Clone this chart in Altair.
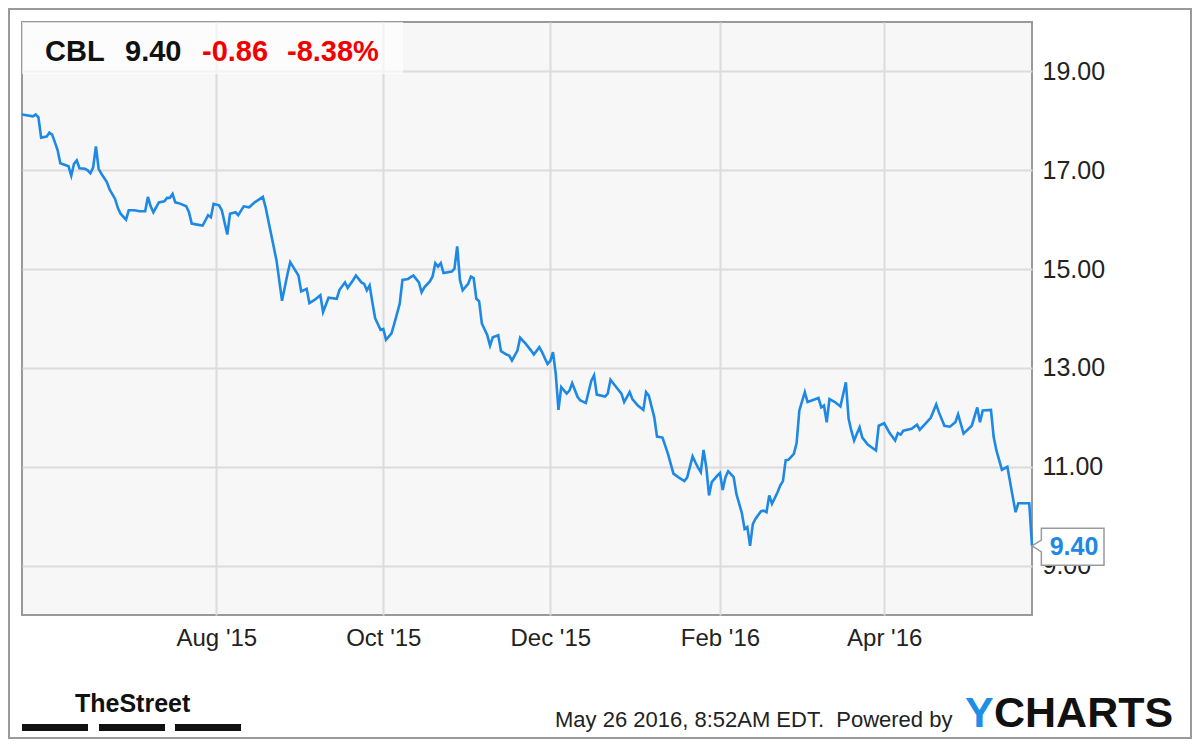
import altair as alt
import pandas as pd

# ---------------- data ----------------
dates = [
    "2015-05-22", "2015-05-26", "2015-05-27", "2015-05-28", "2015-05-29", "2015-05-31",
    "2015-06-01", "2015-06-02", "2015-06-03", "2015-06-04", "2015-06-05", "2015-06-07",
    "2015-06-08", "2015-06-09", "2015-06-10", "2015-06-11", "2015-06-12", "2015-06-14",
    "2015-06-15", "2015-06-16", "2015-06-17", "2015-06-18", "2015-06-19", "2015-06-20",
    "2015-06-22", "2015-06-23", "2015-06-25", "2015-06-26", "2015-06-27", "2015-06-29",
    "2015-06-30", "2015-07-02", "2015-07-04", "2015-07-06", "2015-07-07", "2015-07-08",
    "2015-07-09", "2015-07-11", "2015-07-13", "2015-07-14", "2015-07-15", "2015-07-16",
    "2015-07-17", "2015-07-19", "2015-07-21", "2015-07-22", "2015-07-23", "2015-07-25",
    "2015-07-27", "2015-07-29", "2015-07-30", "2015-07-31", "2015-08-02", "2015-08-03",
    "2015-08-05", "2015-08-06", "2015-08-08", "2015-08-09", "2015-08-11", "2015-08-13",
    "2015-08-15", "2015-08-18", "2015-08-19", "2015-08-21", "2015-08-23", "2015-08-25",
    "2015-08-27", "2015-08-28", "2015-08-29", "2015-08-31", "2015-09-01", "2015-09-03",
    "2015-09-04", "2015-09-06", "2015-09-08", "2015-09-09", "2015-09-11", "2015-09-14",
    "2015-09-15", "2015-09-17", "2015-09-18", "2015-09-20", "2015-09-21", "2015-09-23",
    "2015-09-24", "2015-09-25", "2015-09-26", "2015-09-27", "2015-09-28", "2015-09-29",
    "2015-09-30", "2015-10-01", "2015-10-02", "2015-10-04", "2015-10-05", "2015-10-07",
    "2015-10-08", "2015-10-10", "2015-10-12", "2015-10-14", "2015-10-15", "2015-10-16",
    "2015-10-18", "2015-10-19", "2015-10-20", "2015-10-21", "2015-10-22", "2015-10-23",
    "2015-10-26", "2015-10-27", "2015-10-28", "2015-10-29", "2015-10-30", "2015-11-01",
    "2015-11-02", "2015-11-03", "2015-11-04", "2015-11-05", "2015-11-06", "2015-11-08",
    "2015-11-09", "2015-11-10", "2015-11-12", "2015-11-13", "2015-11-15", "2015-11-16",
    "2015-11-17", "2015-11-19", "2015-11-20", "2015-11-22", "2015-11-24", "2015-11-25",
    "2015-11-27", "2015-11-28", "2015-11-30", "2015-12-01", "2015-12-02", "2015-12-03",
    "2015-12-04", "2015-12-05", "2015-12-07", "2015-12-08", "2015-12-09", "2015-12-11",
    "2015-12-12", "2015-12-14", "2015-12-16", "2015-12-17", "2015-12-18", "2015-12-21",
    "2015-12-22", "2015-12-23", "2015-12-25", "2015-12-27", "2015-12-28", "2015-12-30",
    "2015-12-31", "2016-01-02", "2016-01-04", "2016-01-05", "2016-01-06", "2016-01-08",
    "2016-01-09", "2016-01-11", "2016-01-13", "2016-01-15", "2016-01-17", "2016-01-19",
    "2016-01-20", "2016-01-22", "2016-01-23", "2016-01-24", "2016-01-25", "2016-01-26",
    "2016-01-27", "2016-01-28", "2016-01-29", "2016-01-31", "2016-02-01", "2016-02-02",
    "2016-02-03", "2016-02-04", "2016-02-06", "2016-02-07", "2016-02-09", "2016-02-10",
    "2016-02-11", "2016-02-12", "2016-02-13", "2016-02-14", "2016-02-16", "2016-02-17",
    "2016-02-18", "2016-02-19", "2016-02-20", "2016-02-22", "2016-02-23", "2016-02-24",
    "2016-02-25", "2016-02-26", "2016-02-28", "2016-02-29", "2016-03-01", "2016-03-03",
    "2016-03-04", "2016-03-07", "2016-03-08", "2016-03-09", "2016-03-10", "2016-03-11",
    "2016-03-12", "2016-03-14", "2016-03-16", "2016-03-18", "2016-03-19", "2016-03-20",
    "2016-03-21", "2016-03-23", "2016-03-24", "2016-03-26", "2016-03-29", "2016-03-30",
    "2016-04-01", "2016-04-03", "2016-04-05", "2016-04-06", "2016-04-07", "2016-04-08",
    "2016-04-11", "2016-04-13", "2016-04-14", "2016-04-16", "2016-04-18", "2016-04-20",
    "2016-04-21", "2016-04-23", "2016-04-25", "2016-04-27", "2016-04-28", "2016-04-30",
    "2016-05-03", "2016-05-05", "2016-05-06", "2016-05-07", "2016-05-10", "2016-05-11",
    "2016-05-12", "2016-05-14", "2016-05-16", "2016-05-18", "2016-05-19", "2016-05-20",
    "2016-05-23", "2016-05-24", "2016-05-25",
]
closes = [
    18.13, 18.09, 18.13, 18.07, 17.66, 17.68,
    17.76, 17.72, 17.57, 17.41, 17.14, 17.10,
    17.08, 16.89, 17.13, 17.20, 17.04, 17.03,
    17.00, 16.94, 17.06, 17.48, 17.03, 16.93,
    16.76, 16.61, 16.42, 16.24, 16.12, 16.00,
    16.19, 16.19, 16.17, 16.17, 16.46, 16.27,
    16.15, 16.35, 16.37, 16.44, 16.44, 16.52,
    16.35, 16.32, 16.27, 16.15, 15.92, 15.90,
    15.88, 16.09, 16.05, 16.32, 16.29, 16.19,
    15.70, 16.12, 16.15, 16.09, 16.27, 16.25,
    16.35, 16.46, 16.25, 15.71, 15.17, 14.36,
    14.90, 15.14, 15.05, 14.87, 14.55, 14.60,
    14.31, 14.38, 14.47, 14.13, 14.42, 14.40,
    14.58, 14.73, 14.62, 14.78, 14.87, 14.73,
    14.70, 14.57, 14.67, 14.33, 14.01, 13.89,
    13.77, 13.79, 13.57, 13.70, 13.89, 14.30,
    14.78, 14.80, 14.87, 14.73, 14.53, 14.63,
    14.75, 14.85, 15.12, 15.05, 15.12, 14.92,
    14.95, 15.01, 15.46, 14.78, 14.57, 14.70,
    14.85, 14.82, 14.40, 14.35, 13.90, 13.66,
    13.45, 13.62, 13.66, 13.34, 13.27, 13.25,
    13.15, 13.35, 13.61, 13.49, 13.35, 13.27,
    13.42, 13.32, 13.08, 13.14, 13.32, 12.88,
    12.15, 12.61, 12.48, 12.54, 12.69, 12.41,
    12.34, 12.29, 12.74, 12.85, 12.46, 12.42,
    12.48, 12.76, 12.62, 12.48, 12.31, 12.51,
    12.37, 12.24, 12.15, 12.51, 12.44, 12.00,
    11.61, 11.59, 11.26, 10.86, 10.78, 10.71,
    10.78, 11.21, 11.09, 10.98, 10.89, 11.34,
    10.99, 10.42, 10.69, 10.82, 10.87, 10.53,
    10.79, 10.91, 10.79, 10.45, 10.06, 9.74,
    9.78, 9.40, 9.84, 9.95, 10.10, 10.11,
    10.08, 10.42, 10.25, 10.48, 10.62, 10.71,
    11.13, 11.14, 11.26, 11.48, 12.14, 12.51,
    12.31, 12.37, 12.39, 12.20, 12.24, 11.90,
    12.37, 12.31, 12.22, 12.71, 11.97, 11.73,
    11.53, 11.80, 11.59, 11.45, 11.33, 11.83,
    11.88, 11.68, 11.53, 11.68, 11.65, 11.73,
    11.77, 11.85, 11.75, 11.87, 11.99, 12.26,
    12.10, 11.83, 11.81, 11.90, 12.06, 11.67,
    11.83, 12.20, 11.90, 12.14, 12.15, 11.60,
    11.33, 10.94, 11.00, 10.38, 10.08, 10.26,
    10.26, 10.26, 9.40,
]

x_tick_dates = [(2015, 8), (2015, 10), (2015, 12), (2016, 2), (2016, 4)]
y_ticks = [9, 11, 13, 15, 17, 19]
y_domain = [8, 20]

ticker = "CBL"
last_price = "9.40"
change_abs = "-0.86"
change_pct = "-8.38%"
footer_note = "May 26 2016, 8:52AM EDT.\u00a0 Powered by"
brand_left = "TheStreet"
brand_y = "Y"
brand_rest = "CHARTS"

# ---------------- styling ----------------
FONT = "Liberation Sans"
LINE_BLUE = "#1e88e5"
W, H = 1010, 593

df = pd.DataFrame({"date": dates, "close": closes})
last = df.tail(1)
one = pd.DataFrame({"k": [0]})

x_enc = alt.X(
    "date:T",
    scale=alt.Scale(
        type="utc",
        domain=[alt.DateTime(year=2015, month=5, date=22, utc=True),
                alt.DateTime(year=2016, month=5, date=25, utc=True)],
    ),
    axis=alt.Axis(
        values=[alt.DateTime(year=y, month=m, date=1, utc=True) for y, m in x_tick_dates],
        labelExpr="utcFormat(datum.value, \"%b '%y\")",
        title=None, ticks=False, domain=False, grid=True,
        gridColor="#dcdcdc", gridWidth=2,
        labelFont=FONT, labelFontSize=24, labelColor="#222222",
        labelPadding=11, labelOverlap=False,
    ),
)
y_enc = alt.Y(
    "close:Q",
    scale=alt.Scale(domain=y_domain, nice=False, zero=False),
    axis=alt.Axis(
        orient="right", values=y_ticks, format=".2f", title=None,
        ticks=False, domain=False, grid=True,
        gridColor="#dcdcdc", gridWidth=2,
        labelFont=FONT, labelFontSize=25, labelColor="#222222",
        labelPadding=10, labelAlign="left", labelBaseline="middle",
    ),
)

frame = alt.Chart(one).mark_rect(filled=False, stroke="#9a9a9a", strokeWidth=2).encode(
    x=alt.value(-13), x2=alt.value(1169), y=alt.value(-13), y2=alt.value(716)
)

header_box = alt.Chart(one).mark_rect(fill="white", opacity=0.65).encode(
    x=alt.value(0), x2=alt.value(381), y=alt.value(0), y2=alt.value(52)
)

line = alt.Chart(df).mark_line(color=LINE_BLUE, strokeWidth=2.6).encode(x=x_enc, y=y_enc)

callout_path = "M0,0 L0.26,-0.16 L0.26,-0.49 L2,-0.49 L2,0.54 L0.26,0.54 L0.26,0.17 Z"
callout = alt.Chart(last).mark_point(
    shape=callout_path, size=5184, filled=True, fill="white",
    stroke="#9a9a9a", strokeWidth=1.5, opacity=1,
).encode(x=x_enc, y=y_enc)

callout_text = alt.Chart(last).mark_text(
    dx=42, dy=1, align="center", baseline="middle", font=FONT,
    fontSize=25, fontWeight="bold", color=LINE_BLUE,
).encode(x=x_enc, y=y_enc, text=alt.Text("close:Q", format=".2f"))


def label(txt, px, py, size, color, weight="normal", font=FONT):
    return alt.Chart(one).mark_text(
        align="left", baseline="alphabetic", font=font,
        fontSize=size, fontWeight=weight, color=color,
    ).encode(x=alt.value(px), y=alt.value(py), text=alt.value(txt))


head = [
    label(ticker, 23, 39, 29, "#111111", "bold"),
    label(last_price, 103, 39, 29, "#111111", "bold"),
    label(change_abs, 180, 39, 29, "#f20000", "bold"),
    label(change_pct, 265, 39, 29, "#f20000", "bold"),
]

logo_bars = pd.DataFrame({"x0": [0, 77, 153], "x1": [66, 143, 219]})
bars = alt.Chart(logo_bars).mark_rect(color="#111111").encode(
    x=alt.X("x0:Q", scale=None, axis=None), x2="x1:Q",
    y=alt.value(702), y2=alt.value(709),
)

foot = [
    label(brand_left, 53, 690, 25, "#111111", "bold"),
    label(footer_note, 533, 705, 22, "#222222"),
    label(brand_y, 943, 705, 43, "#1e8ee6", "bold"),
    label(brand_rest, 972, 705, 43, "#111111", "bold"),
]

chart = alt.layer(
    frame, header_box, line, callout, callout_text, *head, bars, *foot
).properties(
    width=W, height=H,
    padding={"left": 14, "top": 14, "right": 160, "bottom": 124},
    autosize=alt.AutoSizeParams(type="none"),
    background="white",
).configure_view(
    fill="#f7f7f7", stroke="#999999", strokeWidth=2
)

chart.save("out.html", embed_options={"renderer": "svg", "actions": False})
